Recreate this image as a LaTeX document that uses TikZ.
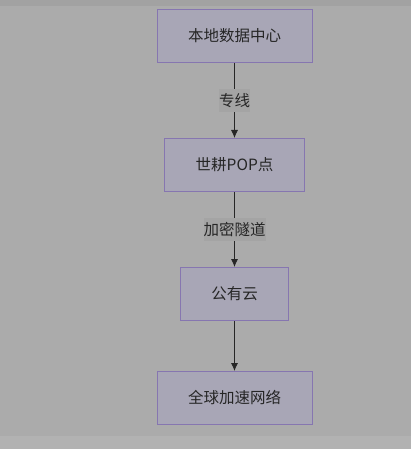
\documentclass[tikz,border=0pt]{standalone}
\usepackage{fontspec}
\newfontfamily\cjk{Noto Sans CJK SC}
\usetikzlibrary{arrows, arrows.meta, positioning}
\definecolor{pagebg}{HTML}{ABABAB}
\definecolor{boxfill}{HTML}{A8A6B6}
\definecolor{boxline}{HTML}{8676B0}
\definecolor{lblbg}{HTML}{A4A4A4}
\definecolor{txt}{HTML}{262626}
\begin{document}
\begin{tikzpicture}[>={Latex[length=8pt,width=7pt]},
        stage/.style={draw=boxline, fill=boxfill, line width=1pt, inner xsep=31pt, inner ysep=0pt,
            minimum height=53pt, text=txt, font=\cjk\fontsize{15.5}{18}\selectfont},
        lbl/.style={fill=lblbg, inner xsep=0pt, inner ysep=4pt, text=txt, font=\cjk\fontsize{15.5}{18}\selectfont},
        link/.style={->, draw=black!85, line width=0.8pt}]
    \fill[pagebg] (0,0) rectangle (411pt,-449pt);
    \fill[black!5!pagebg] (0,0) rectangle (411pt,-6pt);
    \fill[white!8!pagebg] (0,-436pt) rectangle (411pt,-449pt);
    \useasboundingbox (0,0) rectangle (411pt,-449pt);
    \node(dc)[stage] at (234.5pt,-36pt) {本地数据中心};
    \node(pop)[stage, below=75pt of dc] {世耕POP点};
    \node(cloud)[stage, below=75pt of pop] {公有云};
    \node(net)[stage, below=50pt of cloud] {全球加速网络};
    \draw[link] (dc) -- node[lbl] {专线} (pop);
    \draw[link] (pop) -- node[lbl] {加密隧道} (cloud);
    \draw[link] (cloud) -- (net);
\end{tikzpicture}
\end{document}
